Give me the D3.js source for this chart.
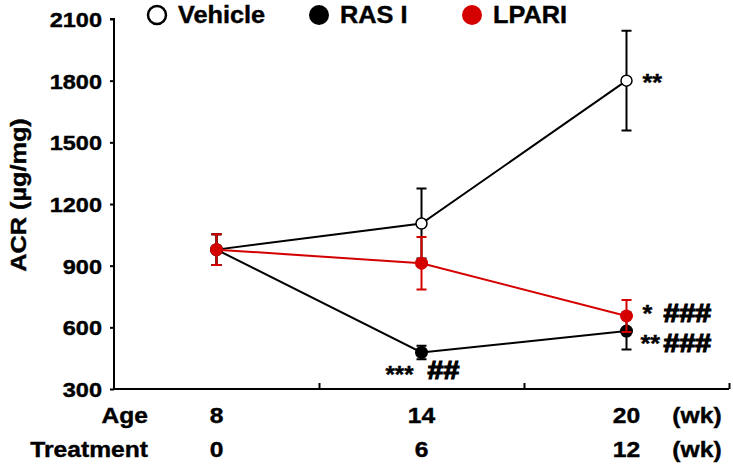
<!DOCTYPE html>
<html>
<head>
<meta charset="utf-8">
<script src="https://cdn.jsdelivr.net/npm/d3@7"></script>
<style>
  body { margin: 0; background: #fff; }
  text { font-family: "Liberation Sans", Arial, sans-serif; font-weight: bold; fill: #000; stroke: #000; stroke-width: 0.4px; }
  .hash { stroke-width: 1.2px; }
</style>
</head>
<body>
<script>
// weeks of age / weeks of treatment
const ages = ["8", "14", "20"];
const treatment = ["0", "6", "12"];
const yTicks = [300, 600, 900, 1200, 1500, 1800, 2100];

// ACR means and error bars (ug/mg)
const vehicle = [978, 1105, 1800];
const vehicleErr = [75, 170, 243];
const rasi = [978, 478, 582];
const rasiErr = [75, 33, 90];
const lpari = [978, 912, 655];
const lpariErr = [75, 128, 78];

const series = [
    { name: "Vehicle", values: vehicle, err: vehicleErr, line: "#000", fill: "#fff", stroke: "#000" },
    { name: "RAS I", values: rasi, err: rasiErr, line: "#000", fill: "#000", stroke: "#000" },
    { name: "LPARI", values: lpari, err: lpariErr, line: "#d40000", fill: "#d40000", stroke: "#d40000" }
];

const W = 733, H = 465;
const svg = d3.select("body").append("svg").attr("width", W).attr("height", H);

const x = d3.scaleLinear().domain([0, 3]).range([114, 729]);
const y = d3.scaleLinear().domain([300, 2100]).range([389, 19]);
const px = i => x(i + 0.5);

// stretched bold text helper (the figure's lettering is a bit wide)
function label(g, tx, ty, str, size, anchor, sx) {
    return g.append("text")
        .attr("transform", `translate(${tx},${ty}) scale(${sx || 1.12},1)`)
        .attr("text-anchor", anchor || "start")
        .style("font-size", size + "px")
        .text(str);
}

// y axis
const yAxis = svg.append("g")
    .attr("transform", `translate(${x(0)},0)`)
    .call(d3.axisLeft(y).tickValues(yTicks).tickSize(4).tickFormat(""));
yAxis.select(".domain").attr("stroke-width", 2).attr("d", `M-4,${y(2100)}H0V${y(300)}`);
yAxis.selectAll(".tick line").attr("stroke-width", 2);
yTicks.forEach(t => label(svg, 102, y(t) + 8, t, 21, "end"));

// x axis (ticks at the band boundaries, pointing up)
const xAxis = svg.append("g")
    .attr("transform", `translate(0,${y(300)})`)
    .call(d3.axisBottom(x).tickValues([1, 2, 3]).tickSize(-6).tickFormat(""));
xAxis.select(".domain").attr("stroke-width", 2).attr("d", `M${x(0)},0H${x(3)}`);
xAxis.selectAll(".tick line").attr("stroke-width", 2);

label(svg, 148, 423, "Age", 22, "end");
label(svg, 148, 457, "Treatment", 22, "end");
ages.forEach((a, i) => label(svg, px(i), 423, a, 22, "middle"));
treatment.forEach((t, i) => label(svg, px(i), 457, t, 22, "middle"));
label(svg, 697, 423, "(wk)", 22, "middle");
label(svg, 697, 457, "(wk)", 22, "middle");

// y title
svg.append("text")
    .attr("transform", `translate(26,195) rotate(-90) scale(1.15,1)`)
    .attr("text-anchor", "middle")
    .style("font-size", "22px")
    .text("ACR (µg/mg)");

// series
const line = d3.line().x((d, i) => px(i)).y(d => y(d));
series.forEach(s => {
    const g = svg.append("g");
    g.append("path")
        .attr("d", line(s.values))
        .attr("fill", "none")
        .attr("stroke", s.line)
        .attr("stroke-width", 2);
    s.values.forEach((v, i) => {
        const e = s.err[i];
        g.append("path")
            .attr("d", `M${px(i)},${y(v + e)}V${y(v - e)}M${px(i) - 5},${y(v + e)}h10M${px(i) - 5},${y(v - e)}h10`)
            .attr("stroke", s.stroke)
            .attr("stroke-width", 2)
            .attr("fill", "none");
        g.append("circle")
            .attr("cx", px(i))
            .attr("cy", y(v))
            .attr("r", s.fill === "#fff" ? 5.5 : 6.5)
            .attr("fill", s.fill)
            .attr("stroke", s.stroke)
            .attr("stroke-width", s.fill === "#fff" ? 1.5 : 0);
    });
});

// significance marks
const notes = svg.append("g");
label(notes, px(2) + 16, y(vehicle[2]) + 10, "**", 24, "start", 1.05);
label(notes, px(2) + 16, y(lpari[2]) + 6, "*", 24, "start", 1.05);
label(notes, px(2) + 37, y(lpari[2]) + 6, "###", 26, "start", 1.1).attr("class", "hash");
label(notes, px(2) + 14, y(rasi[2]) + 21, "**", 24, "start", 1.05);
label(notes, px(2) + 37, y(rasi[2]) + 21, "###", 26, "start", 1.1).attr("class", "hash");
label(notes, px(1) - 36, y(rasi[1]) + 31, "***", 24, "start", 1.0);
label(notes, px(1) + 6, y(rasi[1]) + 27, "##", 26, "start", 1.1).attr("class", "hash");

// legend
const legendX = [157, 319, 472];
series.forEach((s, i) => {
    svg.append("circle")
        .attr("cx", legendX[i])
        .attr("cy", 15)
        .attr("r", s.fill === "#fff" ? 9 : 10)
        .attr("fill", s.fill)
        .attr("stroke", s.stroke)
        .attr("stroke-width", s.fill === "#fff" ? 2.5 : 0);
    label(svg, legendX[i] + 21, 23, s.name, 23, "start", 1.1);
});
</script>
</body>
</html>
